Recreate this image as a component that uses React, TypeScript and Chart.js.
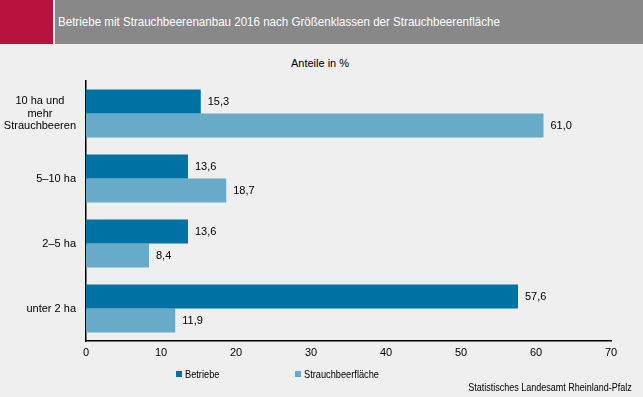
import React, { useEffect, useRef } from "react";
import { Chart, registerables } from "chart.js";

Chart.register(...registerables);

const categories: string[][] = [
  ["10 ha und", "mehr", "Strauchbeeren"],
  ["5–10 ha"],
  ["2–5 ha"],
  ["unter 2 ha"],
];
const betriebe = [15.3, 13.6, 13.6, 57.6];
const flaeche = [61.0, 18.7, 8.4, 11.9];
const seriesNames = ["Betriebe", "Strauchbeerfläche"];
const xTicks = [0, 10, 20, 30, 40, 50, 60, 70];
const title = "Betriebe mit Strauchbeerenanbau 2016 nach Größenklassen der Strauchbeerenfläche";
const subtitle = "Anteile in %";
const source = "Statistisches Landesamt Rheinland-Pfalz";

const DARK = "#0072a3";
const LIGHT = "#67abc9";
const BG = "#eeefee";
const FONT = "Arial, 'Liberation Sans', sans-serif";

const labelPlugin = {
  id: "customLabels",
  afterDraw(chart: any) {
    const ctx = chart.ctx;
    ctx.save();
    ctx.font = `11px ${FONT}`;
    ctx.fillStyle = "#000";
    ctx.textBaseline = "middle";
    chart.data.datasets.forEach((ds: any, di: number) => {
      const meta = chart.getDatasetMeta(di);
      meta.data.forEach((bar: any, i: number) => {
        const v = ds.data[i] as number;
        ctx.textAlign = "left";
        ctx.fillText(v.toFixed(1).replace(".", ","), bar.x + 7, bar.y);
      });
    });
    const yScale = chart.scales.y;
    categories.forEach((lines, i) => {
      const cy = yScale.getPixelForValue(i);
      const widths = lines.map((l) => ctx.measureText(l).width);
      const maxW = Math.max(...widths);
      const right = chart.chartArea.left - 10;
      const lh = 12.5;
      lines.forEach((l, li) => {
        const y = cy + (li - (lines.length - 1) / 2) * lh;
        ctx.textAlign = "center";
        ctx.fillText(l, right - maxW / 2, y);
      });
    });
    ctx.restore();
  },
};

export default function App() {
  const ref = useRef<HTMLCanvasElement>(null);
  useEffect(() => {
    document.body.style.margin = "0";
    document.body.style.background = BG;
    const chart = new Chart(ref.current!, {
      type: "bar",
      data: {
        labels: categories.map((c) => c.join(" ")),
        datasets: [
          { label: seriesNames[0], data: betriebe, backgroundColor: DARK, categoryPercentage: 0.74, barPercentage: 1 },
          { label: seriesNames[1], data: flaeche, backgroundColor: LIGHT, categoryPercentage: 0.74, barPercentage: 1 },
        ],
      },
      options: {
        indexAxis: "y",
        responsive: false,
        animation: false,
        layout: { padding: { top: 81, bottom: 36, right: 32, left: 0 } },
        plugins: { legend: { display: false }, tooltip: { enabled: false } },
        scales: {
          x: {
            min: 0,
            max: 70,
            afterBuildTicks: (s: any) => {
              s.ticks = xTicks.map((v) => ({ value: v }));
            },
            afterFit: (s: any) => {
              s.height = 20;
            },
            grid: { display: false, drawTicks: true, tickLength: 4, tickColor: "#000", drawOnChartArea: false },
            border: { color: "#000", width: 1.5 },
            ticks: { color: "#000", font: { size: 11, family: FONT }, padding: 1, maxRotation: 0 },
          },
          y: {
            afterFit: (s: any) => {
              s.width = 86;
            },
            grid: { display: false, drawOnChartArea: false, offset: true, tickLength: 4, tickColor: "#000" },
            border: { color: "#000", width: 1.5 },
            ticks: { display: false },
          },
        },
      },
      plugins: [labelPlugin],
    } as any);
    return () => chart.destroy();
  }, []);

  return (
    <div style={{ position: "relative", width: 643, height: 397, background: BG, fontFamily: FONT, overflow: "hidden" }}>
      <div style={{ position: "absolute", left: 0, top: 0, width: 53, height: 44, background: "#b8123f" }} />
      <div style={{ position: "absolute", left: 55, top: 0, width: 588, height: 44, background: "#888889" }} />
      <div
        style={{
          position: "absolute",
          left: 58,
          top: 14,
          fontSize: 13,
          color: "#fff",
          whiteSpace: "nowrap",
          transform: "scaleX(0.89)",
          transformOrigin: "left top",
        }}
      >
        {title}
      </div>
      <span style={{ position: "absolute", left: 320, top: 57, transform: "translateX(-50%)", whiteSpace: "nowrap", fontSize: 11, color: "#000" }}>
        {subtitle}
      </span>
      <canvas ref={ref} width={643} height={397} style={{ position: "absolute", left: 0, top: 0 }} />
      <div style={{ position: "absolute", left: 176, top: 368, display: "flex", alignItems: "center", fontSize: 11, color: "#000", whiteSpace: "nowrap" }}>
        <span style={{ display: "inline-block", width: 6, height: 6, background: DARK, marginRight: 3 }} />
        <span style={{ display: "inline-block", transform: "scaleX(0.84)", transformOrigin: "left center" }}>{seriesNames[0]}</span>
      </div>
      <div style={{ position: "absolute", left: 295, top: 368, display: "flex", alignItems: "center", fontSize: 11, color: "#000", whiteSpace: "nowrap" }}>
        <span style={{ display: "inline-block", width: 6, height: 6, background: LIGHT, marginRight: 3 }} />
        <span style={{ display: "inline-block", transform: "scaleX(0.84)", transformOrigin: "left center" }}>{seriesNames[1]}</span>
      </div>
      <div
        style={{
          position: "absolute",
          right: 11,
          top: 382,
          fontSize: 10,
          color: "#000",
          whiteSpace: "nowrap",
          transform: "scaleX(0.9)",
          transformOrigin: "right top",
        }}
      >
        {source}
      </div>
    </div>
  );
}
